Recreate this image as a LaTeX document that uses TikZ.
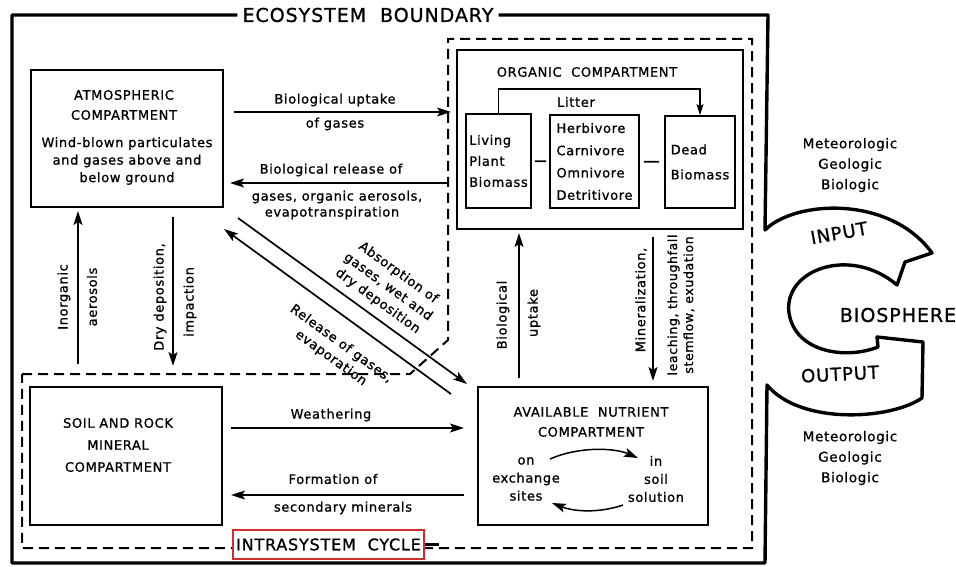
\documentclass[tikz,border=0pt]{standalone}
\usepackage{fontspec}
\setmainfont[LetterSpace=5,FakeBold=1]{DejaVu Sans}
\usetikzlibrary{arrows.meta}
\definecolor{cyclered}{RGB}{205,45,45}
\begin{document}
\begin{tikzpicture}[x=1pt,y=-1pt,>={Stealth[length=14pt,width=9pt,inset=3pt]},
	every node/.style={font=\fontsize{13}{17.5}\selectfont,inner sep=0pt,align=center},
	box/.style={draw,line width=2pt},
	subbox/.style={draw,line width=1.6pt,align=left},
	arr/.style={->,line width=1.7pt},
	dashline/.style={line width=2pt,dash pattern=on 10pt off 6pt}]
	\useasboundingbox (0,0) rectangle (956,567);
	\node (ecolbl) at (368,15) [inner sep=5pt,font=\fontsize{19}{19}\selectfont] {ECOSYSTEM\ \ BOUNDARY};
	\draw[line width=3.4pt,line join=round] (ecolbl.east) -- (768,15) -- (765,230) .. controls (795,200) and (890,195) .. (932,253) -- (905,262) -- (897,285) .. controls (850,245) and (783,270) .. (789,313) .. controls (795,352) and (845,360) .. (878,347) -- (877,337) -- (923,342) -- (922,398) .. controls (890,420) and (800,425) .. (767,385) -- (765,563) -- (12,563) -- (12,15) -- (ecolbl.west);
	\draw[dashline] (22,374) -- (410,374) -- (448,340) -- (448,39) -- (752,39) -- (752,548) -- (22,548) -- cycle;
	\node[draw=cyclered,line width=1.3pt,fill=white,minimum width=191pt,minimum height=29pt,font=\fontsize{16}{16}\selectfont] (cycle) at (328.5,544.5) {INTRASYSTEM\ \ CYCLE};
	\draw[line width=2.6pt] (cycle.east) -- ++(14,0);
	\node[box,minimum width=192pt,minimum height=137pt] (atm) at (127,138.5) {};
	\node[font=\fontsize{13}{20}\selectfont] (atmtitle) at (124,105) {ATMOSPHERIC\\COMPARTMENT};
	\node (atmtext) at (127,161) {Wind-blown particulates\\and gases above and\\below ground};
	\node[box,minimum width=286pt,minimum height=179pt] (org) at (600,139.5) {};
	\node (orgtitle) at (587,72) {ORGANIC\ \ COMPARTMENT};
	\node[subbox,minimum width=65pt,minimum height=94pt,font=\fontsize{13}{21}\selectfont] (living) at (498.5,161) {Living\\Plant\\Biomass};
	\node[subbox,minimum width=89pt,minimum height=93pt,font=\fontsize{13}{22.3}\selectfont] (herb) at (594.5,161.5) {Herbivore\\Carnivore\\Omnivore\\Detritivore};
	\node[subbox,minimum width=70pt,minimum height=92pt,font=\fontsize{13}{25}\selectfont] (dead) at (700,162) {Dead\\Biomass};
	\draw[line width=1.6pt,shorten <=3pt,shorten >=3pt] (living) -- (herb);
	\draw[line width=1.6pt,shorten <=4pt,shorten >=5pt] (herb) -- (dead);
	\draw[->,line width=1.4pt,>={Stealth[length=11pt,width=7pt,inset=2pt]}] (living.north) -- ++(0,-24) -| (dead.north);
	\node (litter) at (576,102) {Litter};
	\node[box,minimum width=230pt,minimum height=138pt] (nut) at (593,456) {};
	\node[font=\fontsize{13}{20}\selectfont] (nuttitle) at (591,422) {AVAILABLE\ \ NUTRIENT\\COMPARTMENT};
	\node[font=\fontsize{13}{18}\selectfont] (exsites) at (526,479) {on\\exchange\\sites};
	\node[font=\fontsize{13}{18}\selectfont] (soilsol) at (656,479) {in\\soil\\solution};
	\coordinate (exA) at (550,459);
	\coordinate (exB) at (638,458);
	\coordinate (solA) at (623,505);
	\coordinate (solB) at (552,503);
	\draw[arr,line width=1.5pt] (exA) .. controls (580,446) and (615,448) .. (exB);
	\draw[arr,line width=1.5pt] (solA) .. controls (600,513) and (575,512) .. (solB);
	\node[box,minimum width=192pt,minimum height=138pt] (soil) at (126,456) {};
	\node[font=\fontsize{13}{22}\selectfont] (soiltext) at (118,445) {SOIL AND ROCK\\MINERAL\\COMPARTMENT};
	\draw[arr,shorten <=10pt,shorten >=5pt] (atm.east |- 0,112) -- (org.west |- 0,112);
	\node (upgas1) at (335,100) {Biological uptake};
	\node (upgas2) at (335,124) {of gases};
	\draw[arr,shorten <=9pt,shorten >=6pt] (org.west |- 0,183) -- (atm.east |- 0,183);
	\node (rel1) at (331,170) {Biological release of};
	\node (rel2) at (337,197) {gases, organic aerosols,};
	\node (rel3) at (332,213) {evapotranspiration};
	\draw[arr] ([shift={(14,10)}]atm.south east) -- ([shift={(-10,-2)}]nut.north west);
	\draw[arr] ([shift={(-26,8)}]nut.north west) -- ([shift={(0,21)}]atm.south east);
	\node[rotate=-36] (abstxt) at (388,287) {Absorption of\\gases, wet and\\dry deposition};
	\node[rotate=-36] (reltxt) at (336,351) {Release of gases,\\evaporation};
	\draw[arr,shorten <=22pt,shorten >=3pt] (78,0 |- soil.north) -- (78,0 |- atm.south);
	\node[rotate=90] (inorg) at (64,297) {Inorganic};
	\node[rotate=90] (aero) at (92,297) {aerosols};
	\draw[arr,shorten <=9pt,shorten >=20pt] (173,0 |- atm.south) -- (173,0 |- soil.north);
	\node[rotate=90] (drydep) at (160,297) {Dry deposition,};
	\node[rotate=90] (impact) at (190,302) {impaction};
	\draw[arr,shorten <=8pt,shorten >=3pt] (nut.north -| 519,0) -- (org.south -| 519,0);
	\node[rotate=90] (biol) at (503,315) {Biological};
	\node[rotate=90] (uptk) at (534,313) {uptake};
	\draw[arr,shorten <=7pt,shorten >=5pt] (org.south -| 653,0) -- (nut.north -| 653,0);
	\node[rotate=90] (minrl) at (641,300) {Mineralization,};
	\node[rotate=90,font=\fontsize{12.5}{16}\selectfont] (leach) at (681,305) {leaching, throughfall\\stemflow, exudation};
	\draw[arr,shorten <=8pt,shorten >=13pt] (soil.east |- 0,428) -- (nut.west |- 0,428);
	\node (weath) at (331,415) {Weathering};
	\draw[arr,shorten <=13pt,shorten >=8pt] (nut.west |- 0,495) -- (soil.east |- 0,495);
	\node (form1) at (333,479) {Formation of};
	\node (form2) at (343,508) {secondary minerals};
	\node[font=\fontsize{13.5}{20.5}\selectfont] (inputsrc) at (850,165) {Meteorologic\\Geologic\\Biologic};
	\node[font=\fontsize{13.5}{20.5}\selectfont] (outputsrc) at (850,458) {Meteorologic\\Geologic\\Biologic};
	\node[rotate=10,font=\fontsize{18}{18}\selectfont] (input) at (839,233) {INPUT};
	\node[rotate=3,font=\fontsize{18}{18}\selectfont] (output) at (840,374) {OUTPUT};
	\node[font=\fontsize{19}{19}\selectfont] (bios) at (898,315) {BIOSPHERE};
\end{tikzpicture}
\end{document}
